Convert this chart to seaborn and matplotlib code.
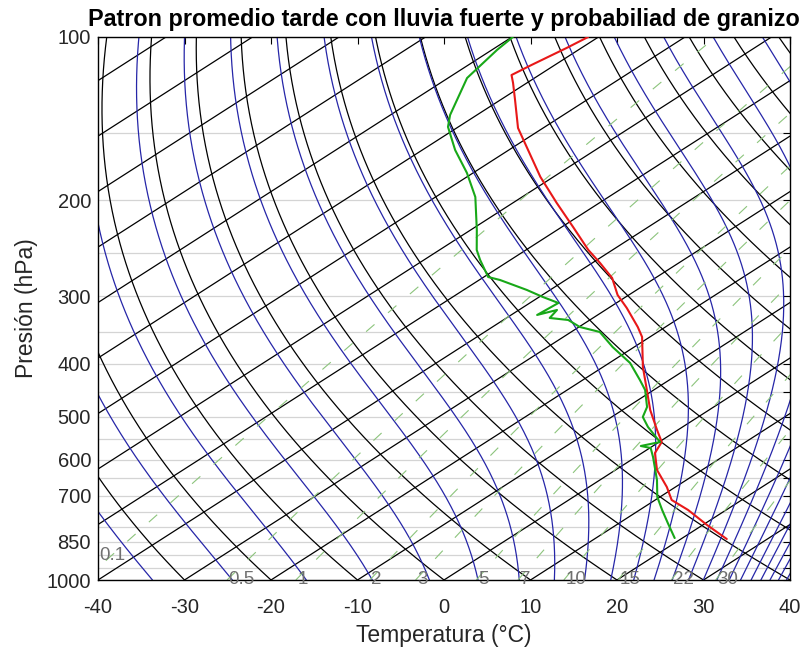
import numpy as np
import pandas as pd
import matplotlib
matplotlib.use("Agg")
import matplotlib.pyplot as plt
import seaborn as sns

# ---------------- data ----------------
temp_p = [100.0, 104.7, 112.6, 117.5, 121.5, 130.6, 147.1, 181.0, 202.2, 223.8,
          246.7, 260.7, 277.8, 298.6, 315.5, 342.0, 356.8, 405.2, 446.7, 486.3,
          529.4, 557.0, 583.6, 627.2, 674.1, 712.3, 743.1, 792.0, 840.4]
temp_c = [-81.2, -81.7, -82.7, -83.2, -81.6, -78.3, -72.9, -61.5, -54.9, -48.7,
          -42.8, -39.1, -35.0, -31.3, -27.9, -23.2, -20.9, -15.4, -10.8, -6.8,
          -2.4, 0.3, 1.5, 4.8, 9.0, 11.9, 15.6, 20.5, 25.3]

dew_p = [100.0, 105.6, 119.0, 139.2, 146.4, 161.5, 178.0, 197.1, 226.6, 246.7,
         257.4, 276.7, 280.2, 292.3, 301.1, 308.9, 325.0, 318.2, 329.2, 332.0,
         342.0, 349.3, 372.3, 398.4, 428.2, 446.7, 480.2, 500.9, 522.6, 547.6,
         557.0, 566.5, 571.3, 593.6, 654.4, 703.3, 743.1, 785.3, 836.9]
dew_c = [-89.9, -89.4, -87.8, -83.1, -81.2, -76.2, -70.7, -65.4, -59.3, -55.7,
         -53.5, -49.5, -47.6, -42.7, -39.6, -36.7, -37.0, -35.6, -35.0, -32.5,
         -29.9, -26.7, -22.5, -17.6, -13.4, -11.0, -7.7, -6.4, -4.0, -1.0,
         0.1, -1.4, 0.1, 2.0, 6.6, 9.7, 12.6, 15.6, 19.1]

# reference lines of the diagram
isotherms_c = list(range(-160, 41, 10))
dry_theta_k = [233.15 + 10 * i for i in range(0, 28)]
moist_thetae_k = list(range(240, 501, 10))
mixing_gkg = [0.1, 0.5, 1, 2, 3, 5, 7, 10, 15, 22, 30]
mixing_labels = ["0.1", "0.5", "1", "2", "3", "5", "7", "10", "15", "22", "30"]

x_ticks = [-40, -30, -20, -10, 0, 10, 20, 30, 40]
p_grid = list(range(100, 1001, 50))
p_labeled = [100, 200, 300, 400, 500, 600, 700, 850, 1000]

title = "Patron promedio tarde con lluvia fuerte y probabiliad de granizo"

# ---------------- helpers ----------------
SKEW = 42.5
MIX_P_EXP = 1.3      # the source diagram's mixing-ratio lines lean more than textbook ones
Rd, cp, Lv, eps = 287.04, 1005.7, 2.501e6, 0.622


def skew(T, p):
    return np.asarray(T) + SKEW * np.log(1000.0 / np.asarray(p))


def es(tc):
    return 6.112 * np.exp(17.67 * tc / (tc + 243.5))


def rs(tc, p):
    e = es(tc)
    return eps * e / (p - e)


def thetae1000(tc):
    T = tc + 273.15
    return T * np.exp(Lv * rs(tc, 1000.0) / (cp * T))


def dTdp(tc, p):
    T = tc + 273.15
    r = rs(tc, p)
    return (Rd * T + Lv * r) / (p * (cp + Lv ** 2 * r * eps / (Rd * T ** 2)))


def moist_line(the, pp):
    lo, hi = -90.0, 60.0
    for _ in range(60):
        mid = 0.5 * (lo + hi)
        if thetae1000(mid) > the:
            hi = mid
        else:
            lo = mid
    t = 0.5 * (lo + hi)
    out = [t]
    for i in range(len(pp) - 1):
        p0, p1 = pp[i], pp[i + 1]
        h = p1 - p0
        k1 = dTdp(t, p0)
        k2 = dTdp(t + 0.5 * h * k1, p0 + 0.5 * h)
        k3 = dTdp(t + 0.5 * h * k2, p0 + 0.5 * h)
        k4 = dTdp(t + h * k3, p1)
        t = t + h * (k1 + 2 * k2 + 2 * k3 + k4) / 6.0
        out.append(t)
    return np.array(out)


def mixing_T(r_gkg, p):
    r = r_gkg / 1000.0
    p_eff = 1000.0 * (np.asarray(p) / 1000.0) ** MIX_P_EXP
    e = r * p_eff / (eps + r)
    a = np.log(e / 6.112)
    return 243.5 * a / (17.67 - a)


# ---------------- figure ----------------
sns.set_theme(style="white")
plt.rcParams["font.family"] = ["Liberation Sans", "DejaVu Sans"]

W, H = 806, 656
fig = plt.figure(figsize=(W / 100, H / 100), dpi=100)
L, R, T_, B = 98, 790, 37, 580
ax = fig.add_axes([L / W, 1 - B / H, (R - L) / W, (B - T_) / H])
ax.set_yscale("log")

pp = np.logspace(3, 2, 400)

for t in isotherms_c:
    ax.plot(skew(np.full_like(pp, t), pp), pp, color="black", lw=0.9, zorder=2)

for th in dry_theta_k:
    tt = th * (pp / 1000.0) ** 0.2857 - 273.15
    ax.plot(skew(tt, pp), pp, color="black", lw=0.9, zorder=2)

for the in moist_thetae_k:
    tt = moist_line(the, pp)
    ax.plot(skew(tt, pp), pp, color="#2626a8", lw=0.9, zorder=2)

for r, lab in zip(mixing_gkg, mixing_labels):
    tt = mixing_T(r, pp)
    ax.plot(skew(tt, pp), pp, color="#8cc47c", lw=0.8, dashes=(10, 16), zorder=2)
    x0 = float(skew(mixing_T(r, 1000.0), 1000.0))
    if x0 < -39.5:
        ax.text(-39.8, 900, lab, color="#707070", fontsize=13.5,
                ha="left", va="center", zorder=3)
    else:
        ax.text(x0 + 0.2, 1000, lab, color="#707070", fontsize=13.5,
                ha="left", va="center", zorder=3)

df_t = pd.DataFrame({"x": skew(temp_c, temp_p), "p": temp_p})
df_d = pd.DataFrame({"x": skew(dew_c, dew_p), "p": dew_p})
sns.lineplot(data=df_t, x="x", y="p", sort=False, estimator=None,
             color="#e81818", lw=1.5, ax=ax, zorder=4)
sns.lineplot(data=df_d, x="x", y="p", sort=False, estimator=None,
             color="#18a818", lw=1.5, ax=ax, zorder=4)

ax.set_xlim(-40, 40)
ax.set_ylim(1000, 100)
ax.set_xticks(x_ticks)
ax.set_xticklabels([str(v) for v in x_ticks])
ax.set_yticks(p_grid)
ax.set_yticklabels([str(v) if v in p_labeled else "" for v in p_grid])
ax.yaxis.set_minor_locator(matplotlib.ticker.NullLocator())
ax.tick_params(direction="in", top=True, right=True, length=5, width=0.8,
               labelsize=14.5, colors="black")
ax.tick_params(axis="x", pad=13)
ax.tick_params(axis="y", pad=5)
for lab in ax.get_xticklabels() + ax.get_yticklabels():
    lab.set_color("#262626")
ax.grid(axis="y", color="#d4d4d4", lw=0.9)
ax.grid(axis="x", visible=False)
ax.set_axisbelow(True)
for s in ax.spines.values():
    s.set_color("black")
    s.set_linewidth(1.0)

ax.set_xlabel("Temperatura (°C)", fontsize=16.5, color="#262626", labelpad=5)
ax.set_ylabel("Presión (hPa)", fontsize=16.5, color="#262626", labelpad=6)
ax.set_title(title, fontsize=16.8, fontweight="bold", color="black", pad=8)

fig.savefig("out.png", dpi=100)
